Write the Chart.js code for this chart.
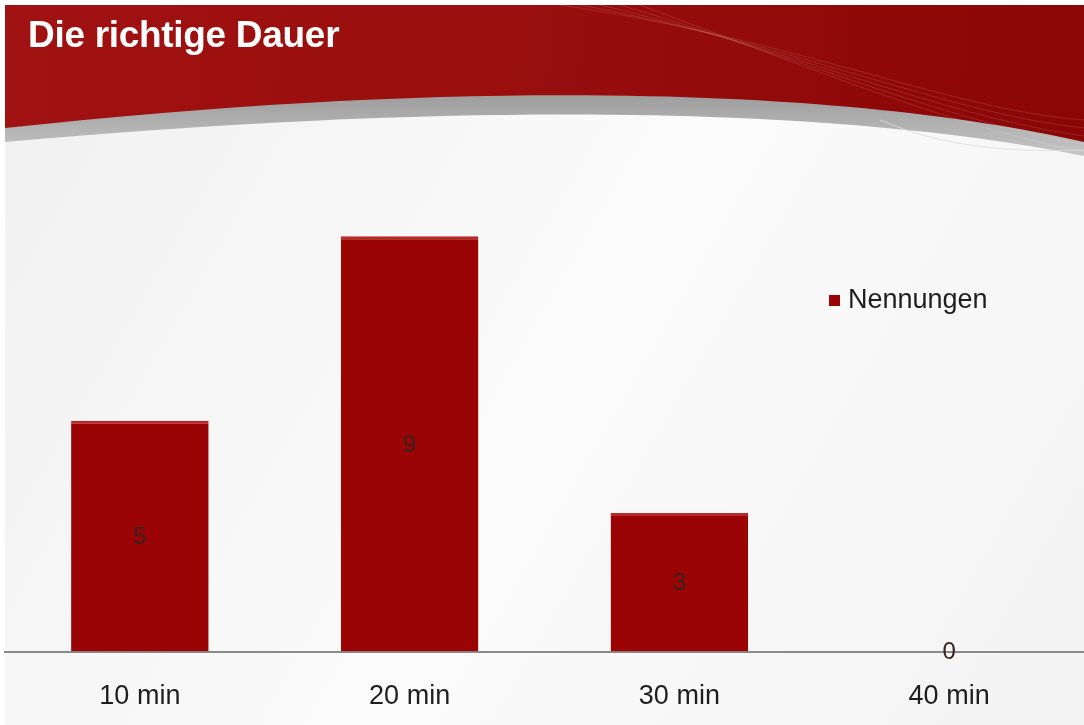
<!DOCTYPE html>
<html>
<head>
<meta charset="utf-8">
<script src="https://cdn.jsdelivr.net/npm/chart.js@4/dist/chart.umd.min.js"></script>
<style>
  html, body { margin: 0; padding: 0; background: #fff; overflow: hidden; }
  #wrap { position: relative; width: 1084px; height: 725px; overflow: hidden; }
  #titel { position: absolute; left: 28px; top: 14px; color: #fff; font: bold 37px "Liberation Sans", Arial, sans-serif; letter-spacing: -0.3px; }
</style>
</head>
<body>
<div id="wrap">
  <canvas id="chart" width="1084" height="725"></canvas>
  <div id="titel">Die richtige Dauer</div>
</div>
<script>
// Werte aus der Folie
const kategorien = ['10 min', '20 min', '30 min', '40 min'];
const nennungen = [5, 9, 3, 0];
const serienName = 'Nennungen';

const rot = '#9b0404';

// Hintergrund mit rotem Kopfbereich
const kopfPlugin = {
  id: 'kopf',
  beforeDraw(chart) {
    const c = chart.ctx;
    c.save();
    let bg = c.createLinearGradient(0, 100, 1084, 725);
    bg.addColorStop(0, '#f1f1f1');
    bg.addColorStop(0.5, '#fbfbfb');
    bg.addColorStop(1, '#f3f3f3');
    c.fillStyle = bg;
    c.fillRect(5, 5, 1079, 720);

    // graues band
    let gr = c.createLinearGradient(0, 90, 0, 160);
    gr.addColorStop(0, '#9a9a9a');
    gr.addColorStop(1, '#c8c8c8');
    c.fillStyle = gr;
    c.beginPath();
    c.moveTo(5, 60);
    c.lineTo(1084, 60);
    c.lineTo(1084, 156);
    c.bezierCurveTo(900, 118, 560, 92, 5, 142);
    c.closePath();
    c.fill();

    // rot
    let rg = c.createLinearGradient(0, 0, 1084, 130);
    rg.addColorStop(0, '#a11212');
    rg.addColorStop(0.45, '#9a0e0e');
    rg.addColorStop(1, '#8a0606');
    c.fillStyle = rg;
    c.beginPath();
    c.moveTo(5, 5);
    c.lineTo(1084, 5);
    c.lineTo(1084, 142);
    c.bezierCurveTo(880, 95, 520, 72, 5, 128);
    c.closePath();
    c.fill();

    // helle linien rechts
    c.strokeStyle = 'rgba(255,255,255,0.12)';
    c.lineWidth = 1;
    for (let i = 0; i < 5; i++) {
      c.beginPath();
      c.moveTo(560 + i * 20, 5);
      c.bezierCurveTo(800, 40 + i * 6, 950, 110 + i * 4, 1084, 120 + i * 8);
      c.stroke();
    }
    c.strokeStyle = 'rgba(220,220,220,0.8)';
    c.beginPath();
    c.moveTo(880, 120);
    c.bezierCurveTo(950, 150, 1020, 152, 1084, 150);
    c.stroke();
    c.restore();
  }
};

// Zahlen mitten in die Balken
const wertePlugin = {
  id: 'werte',
  afterDatasetsDraw(chart) {
    const c = chart.ctx;
    const meta = chart.getDatasetMeta(0);
    c.save();
    c.font = '24px "Liberation Sans", Arial, sans-serif';
    c.fillStyle = '#3a2020';
    c.textAlign = 'center';
    c.textBaseline = 'middle';
    meta.data.forEach((bar, i) => {
      const y = (bar.y + bar.base) / 2;
      c.fillText(String(nennungen[i]), bar.x, y + 1);
    });
    c.restore();
  }
};

// Legende rechts
const legendePlugin = {
  id: 'legende',
  afterDraw(chart) {
    const c = chart.ctx;
    c.save();
    c.fillStyle = rot;
    c.fillRect(829, 295, 11, 11);
    c.font = '27px "Liberation Sans", Arial, sans-serif';
    c.fillStyle = '#1e1e1e';
    c.textBaseline = 'middle';
    c.fillText(chart.data.datasets[0].label, 848, 301);
    c.restore();
  }
};

new Chart(document.getElementById('chart'), {
  type: 'bar',
  data: {
    labels: kategorien,
    datasets: [{
      label: serienName,
      data: nennungen,
      backgroundColor: rot,
      borderColor: '#b82a2a',
      borderWidth: { top: 3, left: 0, right: 0, bottom: 0 },
      borderSkipped: 'bottom',
      barPercentage: 0.51,
      categoryPercentage: 1
    }]
  },
  options: {
    responsive: false,
    animation: false,
    layout: { padding: { top: 190, left: 5, right: 0, bottom: -17 } },
    plugins: {
      legend: { display: false },
      title: { display: false },
      tooltip: { enabled: false }
    },
    scales: {
      x: {
        offset: true,
        grid: { display: false, drawTicks: false },
        border: { display: true, color: '#8a8a8a', width: 2 },
        ticks: {
          color: '#1e1e1e',
          padding: 29,
          font: { size: 27, family: '"Liberation Sans", Arial, sans-serif' }
        }
      },
      y: {
        display: false,
        min: 0,
        max: 10
      }
    }
  },
  plugins: [kopfPlugin, wertePlugin, legendePlugin]
});
</script>
</body>
</html>
